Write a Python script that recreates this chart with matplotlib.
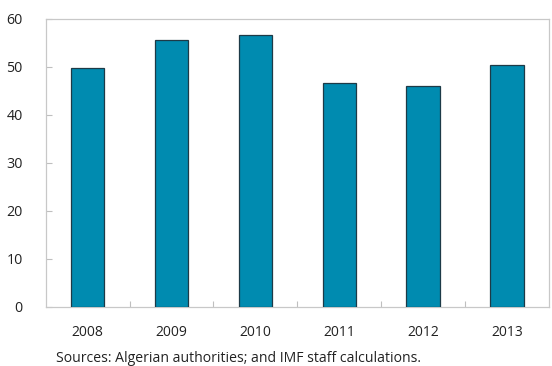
import matplotlib
matplotlib.use("Agg")
import matplotlib.pyplot as plt
import numpy as np

years = ["2008", "2009", "2010", "2011", "2012", "2013"]
values = [49.7, 55.6, 56.6, 46.7, 46.0, 50.5]
y_ticks = [0, 10, 20, 30, 40, 50, 60]
source_note = "Sources: Algerian authorities; and IMF staff calculations."

plt.rcParams["font.family"] = ["Open Sans", "DejaVu Sans"]

fig = plt.figure(figsize=(5.52, 3.66), dpi=100)
W, H = 552, 366
left, right, top, bottom = 45.7, 549, 19, 306.7
ax = fig.add_axes([left / W, 1 - bottom / H, (right - left) / W, (bottom - top) / H])

x = np.arange(len(years))
ax.bar(x, values, width=0.4, color="#008BB0", edgecolor="#1d3a47", linewidth=0.9, zorder=3)

ax.set_xlim(-0.5, len(years) - 0.5)
ax.set_ylim(0, 60)
ax.set_yticks(y_ticks)
ax.set_yticklabels([str(t) for t in y_ticks])

# category labels centred under bars, tick marks on category boundaries
ax.set_xticks(x)
ax.set_xticklabels(years)
ax.set_xticks(np.arange(0.5, len(years) - 0.5, 1), minor=True)
ax.tick_params(axis="x", which="major", length=0, pad=13, labelsize=10, labelcolor="#222222")
ax.tick_params(axis="x", which="minor", direction="in", length=4, color="#bfbfbf", width=0.8)
ax.tick_params(axis="y", direction="in", length=4, color="#bfbfbf", width=0.8,
               pad=16.5, labelsize=10.3, labelcolor="#222222")

for s in ax.spines.values():
    s.set_color("#c8c8c8")
    s.set_linewidth(0.9)

fig.text(56.5 / W, 1 - 358 / H, source_note, fontsize=10.1, color="#222222",
         ha="left", va="center")

fig.savefig("out.png", dpi=100)
